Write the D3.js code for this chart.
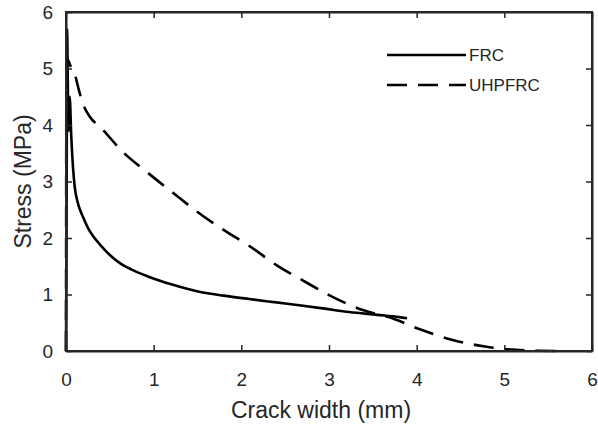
<!DOCTYPE html>
<html>
<head>
<meta charset="utf-8">
<script src="https://cdn.jsdelivr.net/npm/d3@7"></script>
<style>
html,body{margin:0;padding:0;background:#fff;}
text{font-family:"Liberation Sans",Arial,Helvetica,sans-serif;fill:#262626;}
</style>
</head>
<body>
<svg id="chart" width="598" height="429"></svg>
<script>
// Data
const frcX = [0, 0.008, 0.013, 0.02, 0.03, 0.042, 0.06, 0.08, 0.1, 0.13, 0.16, 0.2, 0.25, 0.31, 0.39, 0.5, 0.61, 0.75, 0.95, 1.2, 1.52, 1.8, 2.09, 2.4, 2.66, 2.95, 3.23, 3.55, 3.8, 3.89];
const frcY = [0, 3.0, 5.7, 4.8, 3.9, 4.5, 3.8, 3.25, 2.9, 2.65, 2.5, 2.35, 2.18, 2.03, 1.88, 1.7, 1.56, 1.44, 1.31, 1.18, 1.05, 0.98, 0.92, 0.86, 0.81, 0.75, 0.69, 0.64, 0.6, 0.58];
const uhpX = [0, 0.005, 0.02, 0.05, 0.1, 0.15, 0.2, 0.27, 0.4, 0.65, 0.92, 1.22, 1.5, 1.78, 2.1, 2.4, 2.7, 3.0, 3.375, 3.68, 4.06, 4.4, 4.78, 5.13, 5.4, 5.7];
const uhpY = [0, 5.1, 5.15, 5.05, 4.9, 4.6, 4.35, 4.15, 3.95, 3.52, 3.17, 2.8, 2.46, 2.16, 1.85, 1.52, 1.25, 0.99, 0.73, 0.6, 0.37, 0.2, 0.08, 0.02, 0.005, 0];
const seriesNames = ["FRC", "UHPFRC"];
const xTicks = [0, 1, 2, 3, 4, 5, 6];
const yTicks = [0, 1, 2, 3, 4, 5, 6];

const svg = d3.select("#chart");
const L = 66, R = 592, T = 12, B = 351;
const x = d3.scaleLinear().domain([0, 6]).range([L, R]);
const y = d3.scaleLinear().domain([0, 6]).range([B, T]);
const axisColor = "#262626";

// lines
const lineS = d3.line().x(d => x(d[0])).y(d => y(d[1])).curve(d3.curveMonotoneX);
const frc = frcX.map((v, i) => [v, frcY[i]]);
const uhp = uhpX.map((v, i) => [v, uhpY[i]]);

svg.append("path").datum(uhp).attr("d", lineS)
  .attr("fill", "none").attr("stroke", "#000").attr("stroke-width", 2.6)
  .attr("stroke-dasharray", "20,11").attr("stroke-linejoin", "round");
svg.append("path").datum(frc).attr("d", lineS)
  .attr("fill", "none").attr("stroke", "#000").attr("stroke-width", 2.6)
  .attr("stroke-linejoin", "round");

// axes (ticks inside, box)
const fs = 19;
const gx = svg.append("g").attr("transform", `translate(0,${B})`)
  .call(d3.axisBottom(x).tickValues(xTicks).tickFormat(d3.format("d")).tickSizeInner(-6).tickSizeOuter(0).tickPadding(22));
const gxt = svg.append("g").attr("transform", `translate(0,${T})`)
  .call(d3.axisTop(x).tickValues(xTicks).tickFormat("").tickSizeInner(-6).tickSizeOuter(0));
const gy = svg.append("g").attr("transform", `translate(${L},0)`)
  .call(d3.axisLeft(y).tickValues(yTicks).tickFormat(d3.format("d")).tickSizeInner(-6).tickSizeOuter(0).tickPadding(13));
const gyr = svg.append("g").attr("transform", `translate(${R},0)`)
  .call(d3.axisRight(y).tickValues(yTicks).tickFormat("").tickSizeInner(-6).tickSizeOuter(0));
[gx, gxt, gy, gyr].forEach(g => {
  g.selectAll(".domain").attr("stroke", axisColor).attr("stroke-width", 2);
  g.selectAll(".tick line").attr("stroke", axisColor).attr("stroke-width", 1.5);
  g.selectAll(".tick text").attr("font-size", fs).attr("font-family", "Liberation Sans, Arial, sans-serif").attr("fill", axisColor);
});
svg.append("rect").attr("x", L).attr("y", T).attr("width", R - L).attr("height", B - T)
  .attr("fill", "none").attr("stroke", axisColor).attr("stroke-width", 2);

// axis labels
svg.append("text").attr("x", (L + R) / 2 - 8).attr("y", 418).attr("text-anchor", "middle")
  .attr("font-size", 23).text("Crack width (mm)");
svg.append("text").attr("transform", `translate(31,${(T + B) / 2}) rotate(-90)`)
  .attr("text-anchor", "middle").attr("font-size", 23).text("Stress (MPa)");

// legend
const leg = svg.append("g");
const legY = [55, 85];
seriesNames.forEach((n, i) => {
  leg.append("line").attr("x1", 387).attr("x2", 466).attr("y1", legY[i]).attr("y2", legY[i])
    .attr("stroke", "#000").attr("stroke-width", 2.6)
    .attr("stroke-dasharray", i === 1 ? "20,11" : null);
  leg.append("text").attr("x", 469).attr("y", legY[i]).attr("dy", "0.35em")
    .attr("font-size", 17).text(n);
});
</script>
</body>
</html>
